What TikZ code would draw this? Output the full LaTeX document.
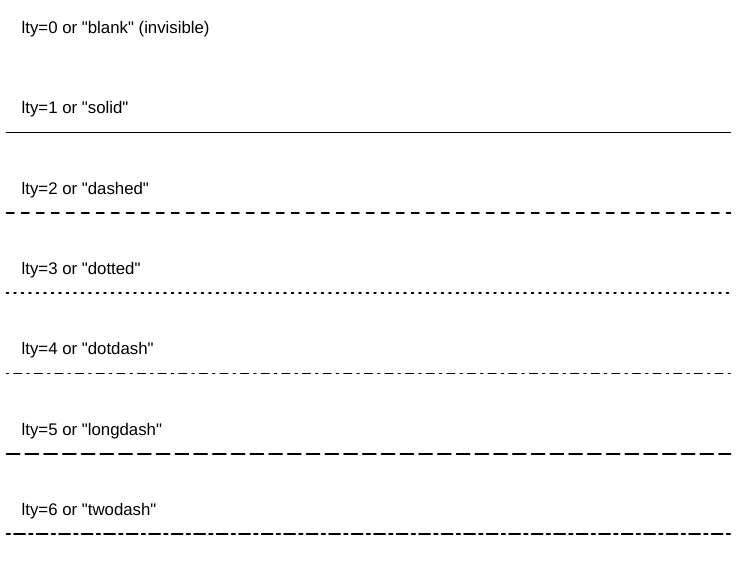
\documentclass[tikz,border=0pt]{standalone}
\usepackage{fontspec}
\setmainfont{Liberation Sans}
\begin{document}
\begin{tikzpicture}[x=1pt,y=-1pt,
  lab/.style={anchor=base west,inner sep=0pt,font=\fontsize{16.8}{18}\selectfont},
  ltyline/.style={line width=1.7pt,line cap=round,black},
  ltydashed/.style={dash pattern=on 7.5pt off 7.5pt},
  ltydotted/.style={dash pattern=on 1.875pt off 5.625pt},
  ltydotdash/.style={dash pattern=on 1.875pt off 5.625pt on 7.5pt off 5.625pt},
  ltylongdash/.style={dash pattern=on 13.125pt off 5.625pt},
  ltytwodash/.style={dash pattern=on 3.75pt off 3.75pt on 11.25pt off 3.75pt}]
\useasboundingbox[fill=white] (0,0) rectangle (742,567);
\def\xl{6.5}\def\xr{730.5}
\def\q{\textquotedbl}
\node[lab] (t0) at (21.5,33.7) {lty=0 or \q blank\q\ (invisible)};
\node[lab] (t1) at (21.5,114.0) {lty=1 or \q solid\q};
\node[lab] (t2) at (21.5,194.3) {lty=2 or \q dashed\q};
\node[lab] (t3) at (21.5,274.6) {lty=3 or \q dotted\q};
\node[lab] (t4) at (21.5,354.9) {lty=4 or \q dotdash\q};
\node[lab] (t5) at (21.5,435.2) {lty=5 or \q longdash\q};
\node[lab] (t6) at (21.5,515.5) {lty=6 or \q twodash\q};
\draw[ltyline] (\xl,132.5) -- (\xr,132.5);
\draw[ltyline,ltydashed] (\xl,212.8) -- (\xr,212.8);
\draw[ltyline,ltydotted] (\xl,293.1) -- (\xr,293.1);
\draw[ltyline,ltydotdash] (\xl,373.4) -- (\xr,373.4);
\draw[ltyline,ltylongdash] (\xl,453.7) -- (\xr,453.7);
\draw[ltyline,ltytwodash] (\xl,534.0) -- (\xr,534.0);
\end{tikzpicture}
\end{document}
